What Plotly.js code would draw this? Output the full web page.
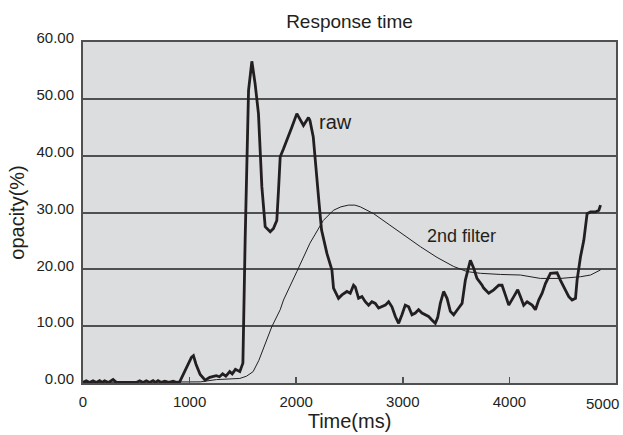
<!DOCTYPE html>
<html>
<head>
<meta charset="utf-8">
<script src="https://cdn.plot.ly/plotly-3.0.1.min.js"></script>
<style>html,body{margin:0;padding:0;background:#fff;}#chart{width:623px;height:435px;}</style>
</head>
<body>
<div id="chart"></div>
<script>
// Raw response (ms, %)
var rawTime = [0, 31, 62, 94, 125, 156, 180, 203, 240, 282, 313, 400, 500, 532, 563, 594, 625, 657, 680, 704, 735, 767, 806, 845, 876, 907, 960, 1017, 1036, 1060, 1099, 1146, 1189, 1220, 1250, 1280, 1310, 1340, 1377, 1400, 1430, 1471, 1487, 1500, 1521, 1553, 1584, 1615, 1646, 1662, 1678, 1709, 1756, 1787, 1818, 1834, 1850, 1881, 1928, 1959, 2006, 2035, 2068, 2115, 2129, 2160, 2191, 2215, 2238, 2288, 2335, 2350, 2397, 2429, 2476, 2507, 2538, 2554, 2585, 2617, 2648, 2679, 2710, 2742, 2773, 2803, 2836, 2867, 2898, 2930, 2961, 2992, 3023, 3055, 3086, 3117, 3148, 3180, 3211, 3242, 3273, 3305, 3327, 3352, 3383, 3415, 3446, 3477, 3524, 3556, 3587, 3634, 3665, 3696, 3744, 3759, 3806, 3853, 3900, 3931, 3962, 3994, 4041, 4078, 4103, 4134, 4166, 4213, 4244, 4275, 4307, 4338, 4385, 4416, 4447, 4478, 4510, 4557, 4588, 4620, 4635, 4667, 4698, 4729, 4761, 4808, 4839, 4855];
var rawValue = [0.1, 0.4, 0.1, 0.4, 0.1, 0.4, 0.1, 0.4, 0.1, 0.6, 0.1, 0.1, 0.1, 0.4, 0.1, 0.4, 0.1, 0.4, 0.1, 0.4, 0.1, 0.3, 0.1, 0.3, 0.1, 0.2, 2.2, 4.5, 4.8, 3.3, 1.5, 0.5, 1.0, 1.2, 1.3, 1.1, 1.6, 1.2, 2.0, 1.6, 2.4, 2.0, 3.0, 3.5, 25.1, 51.5, 56.6, 52.6, 47.4, 40.4, 34.5, 27.5, 26.6, 27.2, 28.6, 33.9, 39.8, 41.2, 43.3, 45.0, 47.4, 46.5, 45.3, 46.7, 46.2, 43.3, 35.7, 31.5, 26.9, 22.8, 19.9, 16.7, 14.9, 15.5, 16.1, 15.8, 17.2, 16.9, 14.9, 15.2, 14.3, 13.7, 14.3, 14.0, 13.2, 13.4, 13.7, 14.3, 13.4, 11.7, 10.5, 12.0, 13.7, 13.4, 12.0, 12.3, 12.9, 12.3, 12.0, 11.7, 11.1, 10.5, 11.5, 14.0, 16.1, 14.9, 12.6, 12.0, 13.2, 14.0, 18.1, 21.6, 20.2, 18.4, 17.2, 16.7, 15.8, 16.4, 17.2, 17.2, 15.5, 13.7, 15.2, 16.4, 15.2, 13.7, 14.3, 13.7, 12.9, 14.6, 15.8, 17.5, 19.3, 19.4, 19.4, 18.1, 16.9, 15.2, 14.6, 14.9, 18.1, 22.2, 25.1, 29.8, 30.1, 30.1, 30.4, 31.3];

// 2nd filter output (ms, %)
var filterTime = [0, 500, 1000, 1100, 1252, 1400, 1471, 1534, 1596, 1650, 1700, 1771, 1850, 1881, 2006, 2129, 2254, 2350, 2420, 2491, 2550, 2601, 2726, 2852, 3008, 3164, 3321, 3477, 3603, 3728, 3915, 4103, 4291, 4479, 4667, 4761, 4855];
var filterValue = [0.1, 0.1, 0.1, 0.2, 0.6, 0.7, 0.8, 1.2, 2.0, 4.0, 6.5, 9.9, 12.9, 14.6, 19.6, 24.6, 28.6, 30.4, 31.0, 31.3, 31.3, 31.0, 29.8, 28.1, 26.0, 24.0, 22.1, 20.5, 19.6, 19.3, 19.1, 19.0, 18.4, 18.4, 18.7, 19.0, 19.9];

var xTicks = [0, 1000, 2000, 3000, 4000, 5000];
var xTickText = ['0', '1000', '2000', '3000', '4000', ''];
var yTicks = [0, 10, 20, 30, 40, 50, 60];

var FONT = 'Liberation Sans, Arial, Helvetica, sans-serif';
var TXT = '#231f20';

var traces = [
  {x: filterTime, y: filterValue, type: 'scatter', mode: 'lines', name: '2nd filter',
   line: {color: '#231f20', width: 1}},
  {x: rawTime, y: rawValue, type: 'scatter', mode: 'lines', name: 'raw',
   line: {color: '#231f20', width: 2.8}}
];

var layout = {
  width: 623, height: 435,
  margin: {l: 83, r: 7, t: 42, b: 52, pad: 0},
  paper_bgcolor: '#ffffff',
  plot_bgcolor: '#dcdddf',
  showlegend: false,
  font: {family: FONT, color: TXT, size: 15},
  title: {text: 'Response time', font: {family: FONT, size: 19, color: TXT},
          x: 0.5, xref: 'paper', xanchor: 'center', y: 0.95, yref: 'container', yanchor: 'middle'},
  xaxis: {
    range: [0, 5000], tickvals: xTicks, ticktext: xTickText,
    ticks: 'inside', ticklen: 6, tickwidth: 1.5, tickcolor: '#505050',
    showgrid: false, zeroline: false,
    showline: true, linecolor: '#505050', linewidth: 2, mirror: true,
    tickfont: {family: FONT, size: 15, color: TXT},
    ticklabelstandoff: 4,
    title: {text: 'Time(ms)', font: {family: FONT, size: 20, color: TXT}, standoff: 0}
  },
  yaxis: {
    range: [0, 60], tickvals: yTicks, tickformat: '.2f',
    ticks: '', showgrid: true, gridcolor: '#505050', gridwidth: 2,
    zeroline: false,
    showline: true, linecolor: '#505050', linewidth: 2, mirror: true,
    tickfont: {family: FONT, size: 15, color: TXT},
    ticklabelshift: -4, ticklabelstandoff: 4,
    title: {text: 'opacity(%)', font: {family: FONT, size: 20, color: TXT}, standoff: 6}
  },
  annotations: [
    {x: 2193, y: 45.9, xref: 'x', yref: 'y', text: 'raw', showarrow: false,
     xanchor: 'left', yanchor: 'middle', font: {family: FONT, size: 20, color: TXT}},
    {x: 3210, y: 25.9, xref: 'x', yref: 'y', text: '2nd filter', showarrow: false,
     xanchor: 'left', yanchor: 'middle', font: {family: FONT, size: 18, color: TXT}},
    {x: 1, y: 0, xref: 'paper', yref: 'paper', text: '5000', showarrow: false,
     xanchor: 'right', yanchor: 'top', xshift: 5, yshift: -10,
     font: {family: FONT, size: 15, color: TXT}}
  ]
};

Plotly.newPlot('chart', traces, layout, {staticPlot: true, displayModeBar: false});
</script>
</body>
</html>
